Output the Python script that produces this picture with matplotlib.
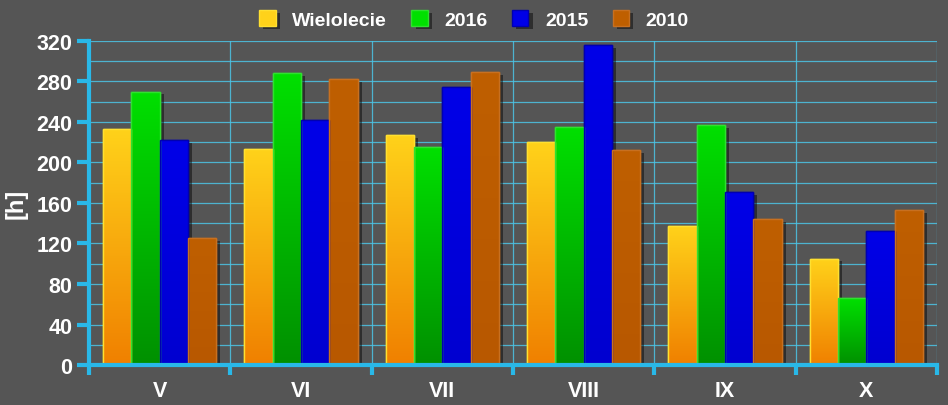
import matplotlib.pyplot as plt
import matplotlib.patheffects as pe
from matplotlib.colors import LinearSegmentedColormap
import numpy as np

months = ['V', 'VI', 'VII', 'VIII', 'IX', 'X']
series = ['Wielolecie', '2016', '2015', '2010']
wielolecie = [233, 213, 227, 220, 137, 105]
y2016 = [270, 288, 215, 235, 237, 66]
y2015 = [222, 242, 275, 316, 171, 132]
y2010 = [125, 282, 289, 212, 144, 153]
values = [wielolecie, y2016, y2015, y2010]

# gradient (top colour, bottom colour) and edge per series
grads = [('#ffd21a', '#f08000'), ('#00e000', '#009000'), ('#0000e8', '#0000d0'), ('#bf5f00', '#b85800')]
edges = ['#ffe030', '#30e030', '#0000b0', '#c87020']

bg = '#555555'
grid_c = '#4cc4e6'
axis_c = '#29b8e8'

fig = plt.figure(figsize=(9.48, 4.06), dpi=100, facecolor=bg)
ax = fig.add_axes([0.0939, 0.0985, 0.8945, 0.7981])
ax.set_facecolor(bg)

n = len(months)
x = np.arange(n)
w = 0.2

# grid
for yv in range(20, 321, 20):
    ax.axhline(yv, color=grid_c, lw=0.9, alpha=0.85, zorder=1)
for xv in np.arange(0.5, n, 1.0):
    ax.axvline(xv, color=grid_c, lw=0.9, alpha=0.85, zorder=1)

grad = np.linspace(0, 1, 256).reshape(-1, 1)
for i, vals in enumerate(values):
    cmap = LinearSegmentedColormap.from_list('g%d' % i, [grads[i][1], grads[i][0]])
    pos = x - 1.5 * w + i * w
    bars = ax.bar(pos, vals, width=w, color=grads[i][0], edgecolor=edges[i],
                  lw=1, zorder=3, label=series[i])
    for b in bars:
        b.set_path_effects([pe.SimplePatchShadow(offset=(3, -2), shadow_rgbFace='black', alpha=0.45),
                            pe.Normal()])
        x0, y0 = b.get_x(), b.get_y()
        im = ax.imshow(grad, cmap=cmap, origin='lower', aspect='auto',
                       extent=[x0, x0 + b.get_width(), y0, y0 + b.get_height()], zorder=4)
        im.set_clip_path(b)
        ax.bar(x0 + b.get_width() / 2, b.get_height(), width=b.get_width(), bottom=y0,
               fill=False, edgecolor=edges[i], lw=1, zorder=5)

ax.set_xlim(-0.5, n - 0.5)
ax.set_ylim(0, 320)

for s in ['top', 'right']:
    ax.spines[s].set_visible(False)
for s in ['left', 'bottom']:
    ax.spines[s].set_color(axis_c)
    ax.spines[s].set_linewidth(3)
    ax.spines[s].set_zorder(6)

ax.set_yticks(range(0, 321, 40))
ax.set_xticks(np.arange(-0.5, n, 1.0))
ax.set_xticklabels([])
ax.set_xticks(x, minor=True)
ax.set_xticklabels(months, minor=True)
ax.tick_params(axis='x', which='minor', length=0, pad=11)
ax.tick_params(axis='x', which='major', length=7, width=3, color=axis_c)
ax.tick_params(axis='y', length=9, width=3, color=axis_c, pad=3)
for lab in ax.get_yticklabels() + ax.get_xticklabels(minor=True):
    lab.set_color('white')
    lab.set_fontweight('bold')
    lab.set_fontsize(15.5)
    lab.set_fontfamily('Liberation Sans')

ax.set_ylabel('[h]', color='white', fontsize=17, fontweight='bold', family='Liberation Sans', labelpad=6)

leg = fig.legend(loc='upper center', bbox_to_anchor=(0.5, 1.015), ncol=4, frameon=False,
                 handlelength=0.85, handleheight=0.85, handletextpad=0.85, columnspacing=1.25,
                 prop={'family': 'Liberation Sans', 'weight': 'bold', 'size': 14})
for t in leg.get_texts():
    t.set_color('white')

fig.savefig('out.png', dpi=100, facecolor=bg)
